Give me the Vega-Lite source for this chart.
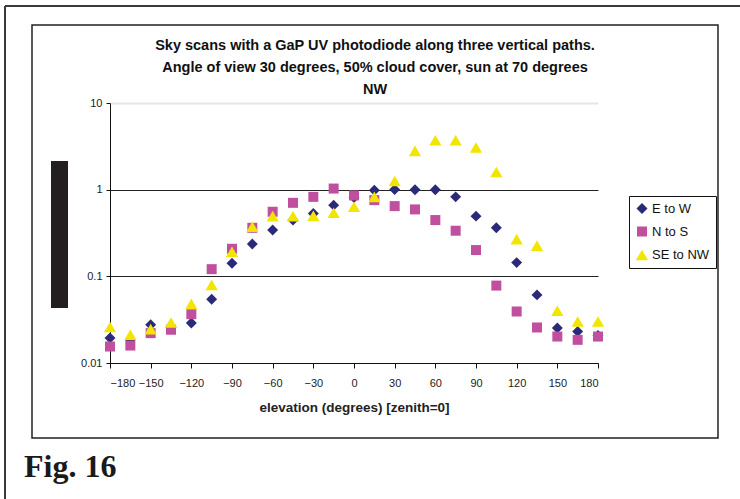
{
  "$schema": "https://vega.github.io/schema/vega-lite/v6.json",
  "autosize": {"type": "none"},
  "width": 488,
  "height": 260,
  "padding": {"left": 110, "top": 103, "right": 142, "bottom": 136},
  "background": "white",
  "datasets": {
    "scan": [
      {"elev": -180, "series": "E to W", "value": 0.0194},
      {"elev": -165, "series": "E to W", "value": 0.0185},
      {"elev": -150, "series": "E to W", "value": 0.0276},
      {"elev": -135, "series": "E to W", "value": 0.026},
      {"elev": -120, "series": "E to W", "value": 0.0289},
      {"elev": -105, "series": "E to W", "value": 0.0545},
      {"elev": -90, "series": "E to W", "value": 0.1415},
      {"elev": -75, "series": "E to W", "value": 0.236},
      {"elev": -60, "series": "E to W", "value": 0.342},
      {"elev": -45, "series": "E to W", "value": 0.446},
      {"elev": -30, "series": "E to W", "value": 0.532},
      {"elev": -15, "series": "E to W", "value": 0.663},
      {"elev": 0, "series": "E to W", "value": 0.813},
      {"elev": 15, "series": "E to W", "value": 0.987},
      {"elev": 30, "series": "E to W", "value": 1.005},
      {"elev": 45, "series": "E to W", "value": 1.0},
      {"elev": 60, "series": "E to W", "value": 1.0},
      {"elev": 75, "series": "E to W", "value": 0.826},
      {"elev": 90, "series": "E to W", "value": 0.495},
      {"elev": 105, "series": "E to W", "value": 0.363},
      {"elev": 120, "series": "E to W", "value": 0.144},
      {"elev": 135, "series": "E to W", "value": 0.0611},
      {"elev": 150, "series": "E to W", "value": 0.0253},
      {"elev": 165, "series": "E to W", "value": 0.0231},
      {"elev": 180, "series": "E to W", "value": 0.0208},
      {"elev": -180, "series": "N to S", "value": 0.0155},
      {"elev": -165, "series": "N to S", "value": 0.0159},
      {"elev": -150, "series": "N to S", "value": 0.0221},
      {"elev": -135, "series": "N to S", "value": 0.0242},
      {"elev": -120, "series": "N to S", "value": 0.0366},
      {"elev": -105, "series": "N to S", "value": 0.121},
      {"elev": -90, "series": "N to S", "value": 0.208},
      {"elev": -75, "series": "N to S", "value": 0.363},
      {"elev": -60, "series": "N to S", "value": 0.556},
      {"elev": -45, "series": "N to S", "value": 0.705},
      {"elev": -30, "series": "N to S", "value": 0.826},
      {"elev": -15, "series": "N to S", "value": 1.03},
      {"elev": 0, "series": "N to S", "value": 0.858},
      {"elev": 15, "series": "N to S", "value": 0.757},
      {"elev": 30, "series": "N to S", "value": 0.646},
      {"elev": 45, "series": "N to S", "value": 0.592},
      {"elev": 60, "series": "N to S", "value": 0.446},
      {"elev": 75, "series": "N to S", "value": 0.336},
      {"elev": 90, "series": "N to S", "value": 0.201},
      {"elev": 105, "series": "N to S", "value": 0.0782},
      {"elev": 120, "series": "N to S", "value": 0.0393},
      {"elev": 135, "series": "N to S", "value": 0.0257},
      {"elev": 150, "series": "N to S", "value": 0.0202},
      {"elev": 165, "series": "N to S", "value": 0.0185},
      {"elev": 180, "series": "N to S", "value": 0.0202},
      {"elev": -180, "series": "SE to NW", "value": 0.026},
      {"elev": -165, "series": "SE to NW", "value": 0.0212},
      {"elev": -150, "series": "SE to NW", "value": 0.0246},
      {"elev": -135, "series": "SE to NW", "value": 0.0293},
      {"elev": -120, "series": "SE to NW", "value": 0.0481},
      {"elev": -105, "series": "SE to NW", "value": 0.0796},
      {"elev": -90, "series": "SE to NW", "value": 0.192},
      {"elev": -75, "series": "SE to NW", "value": 0.373},
      {"elev": -60, "series": "SE to NW", "value": 0.495},
      {"elev": -45, "series": "SE to NW", "value": 0.495},
      {"elev": -30, "series": "SE to NW", "value": 0.5},
      {"elev": -15, "series": "SE to NW", "value": 0.541},
      {"elev": 0, "series": "SE to NW", "value": 0.634},
      {"elev": 15, "series": "SE to NW", "value": 0.826},
      {"elev": 30, "series": "SE to NW", "value": 1.26},
      {"elev": 45, "series": "SE to NW", "value": 2.8},
      {"elev": 60, "series": "SE to NW", "value": 3.71},
      {"elev": 75, "series": "SE to NW", "value": 3.71},
      {"elev": 90, "series": "SE to NW", "value": 3.06},
      {"elev": 105, "series": "SE to NW", "value": 1.6},
      {"elev": 120, "series": "SE to NW", "value": 0.269},
      {"elev": 135, "series": "SE to NW", "value": 0.226},
      {"elev": 150, "series": "SE to NW", "value": 0.04},
      {"elev": 165, "series": "SE to NW", "value": 0.0301},
      {"elev": 180, "series": "SE to NW", "value": 0.0301}
    ]
  },
  "layer": [
    {
      "data": {"values": [{"label": "frame"}]},
      "mark": {"type": "rect", "fill": null, "stroke": "#222", "strokeWidth": 1.5, "clip": false},
      "encoding": {
        "x": {"datum": -237.54, "type": "quantitative", "scale": {"domain": [-180, 180], "nice": false, "zero": false}},
        "x2": {"datum": 268.52},
        "y": {"datum": 79.43, "type": "quantitative", "scale": {"type": "log", "domain": [0.01, 10], "nice": false}},
        "y2": {"datum": 0.001363}
      }
    },
    {
      "data": {"values": [{"label": "outer"}]},
      "mark": {"type": "rule", "stroke": "#3a3a3a", "strokeWidth": 2, "clip": false},
      "encoding": {
        "x": {"datum": -257.46, "type": "quantitative", "scale": {"domain": [-180, 180], "nice": false, "zero": false}},
        "x2": {"datum": 300},
        "y": {"datum": 131.6, "type": "quantitative", "scale": {"type": "log", "domain": [0.01, 10], "nice": false}}
      }
    },
    {
      "data": {"values": [{"label": "outer"}]},
      "mark": {"type": "rule", "stroke": "#3a3a3a", "strokeWidth": 2, "clip": false},
      "encoding": {
        "x": {"datum": -257.46, "type": "quantitative", "scale": {"domain": [-180, 180], "nice": false, "zero": false}},
        "y": {"datum": 131.6, "type": "quantitative", "scale": {"type": "log", "domain": [0.01, 10], "nice": false}},
        "y2": {"datum": 0.0002}
      }
    },
    {
      "data": {"values": [{"label": "bar"}]},
      "mark": {"type": "rect", "fill": "#231f20", "clip": false},
      "encoding": {
        "x": {"datum": -223.52, "type": "quantitative", "scale": {"domain": [-180, 180], "nice": false, "zero": false}},
        "x2": {"datum": -210.98},
        "y": {"datum": 2.142, "type": "quantitative", "scale": {"type": "log", "domain": [0.01, 10], "nice": false}},
        "y2": {"datum": 0.04311}
      }
    },
    {
      "data": {"values": [{"label": "Fig. 16"}]},
      "mark": {"type": "text", "font": "Liberation Serif", "fontWeight": "bold", "fontSize": 32, "align": "left", "baseline": "alphabetic", "color": "#1a1a1a", "clip": false},
      "encoding": {
        "x": {"datum": -243.44, "type": "quantitative", "scale": {"domain": [-180, 180], "nice": false, "zero": false}},
        "y": {"datum": 0.0004837, "type": "quantitative", "scale": {"type": "log", "domain": [0.01, 10], "nice": false}},
        "text": {"field": "label"}
      }
    },
    {
      "data": {"values": [{"label": "Sky scans with a GaP UV photodiode along three vertical paths.\nAngle of view 30 degrees, 50% cloud cover, sun at 70 degrees\nNW"}]},
      "mark": {"type": "text", "font": "Liberation Sans", "fontWeight": "bold", "fontSize": 14.5, "lineHeight": 22, "lineBreak": "\n", "align": "center", "baseline": "top", "color": "#111", "clip": false},
      "encoding": {
        "x": {"datum": 15.5, "type": "quantitative", "scale": {"domain": [-180, 180], "nice": false, "zero": false}},
        "y": {"datum": 54.5, "type": "quantitative", "scale": {"type": "log", "domain": [0.01, 10], "nice": false}},
        "text": {"field": "label"}
      }
    },
    {
      "data": {"name": "scan"},
      "mark": {"type": "point", "filled": true, "opacity": 1, "clip": false},
      "encoding": {
        "x": {
          "field": "elev", "type": "quantitative",
          "scale": {"domain": [-180, 180], "nice": false, "zero": false},
          "axis": {
            "values": [-180, -150, -120, -90, -60, -30, 0, 30, 60, 90, 120, 150, 180],
            "title": "elevation (degrees) [zenith=0]",
            "grid": false,
            "tickSize": 5,
            "labelPadding": 9,
            "titlePadding": 12
          }
        },
        "y": {
          "field": "value", "type": "quantitative",
          "scale": {"type": "log", "domain": [0.01, 10], "nice": false},
          "axis": {
            "values": [0.01, 0.1, 1, 10],
            "format": "~g",
            "title": null,
            "grid": true,
            "gridColor": {"condition": {"test": "datum.value > 5", "value": "#e6e6e6"}, "value": "#222"},
            "gridWidth": {"condition": {"test": "datum.value > 5", "value": 2}, "value": 1},
            "tickSize": 4,
            "labelPadding": 4
          }
        },
        "color": {
          "field": "series", "type": "nominal",
          "scale": {"domain": ["E to W", "N to S", "SE to NW"], "range": ["#2a2a78", "#c0509f", "#f2e600"]},
          "legend": {
            "title": null,
            "orient": "none",
            "legendX": 519,
            "legendY": 93,
            "strokeColor": "#111",
            "fillColor": "white",
            "padding": 6,
            "rowPadding": 9,
            "symbolSize": 55,
            "labelFont": "Liberation Sans",
            "labelFontSize": 13,
            "labelColor": "#111",
            "labelOffset": 3,
            "encode": {"symbols": {"update": {"size": {"value": 55}}}}
          }
        },
        "shape": {
          "field": "series", "type": "nominal",
          "scale": {"domain": ["E to W", "N to S", "SE to NW"], "range": ["diamond", "square", "triangle-up"]}
        },
        "size": {
          "field": "series", "type": "nominal",
          "scale": {"type": "ordinal", "domain": ["E to W", "N to S", "SE to NW"], "range": [120, 100, 150]},
          "legend": null
        }
      }
    }
  ],
  "config": {
    "view": {"stroke": null},
    "axis": {
      "domainColor": "#111",
      "tickColor": "#111",
      "labelFont": "Liberation Sans",
      "labelFontSize": 11,
      "labelColor": "#222",
      "titleFont": "Liberation Sans",
      "titleFontSize": 13.5,
      "titleFontWeight": "bold",
      "titleColor": "#222"
    }
  }
}
